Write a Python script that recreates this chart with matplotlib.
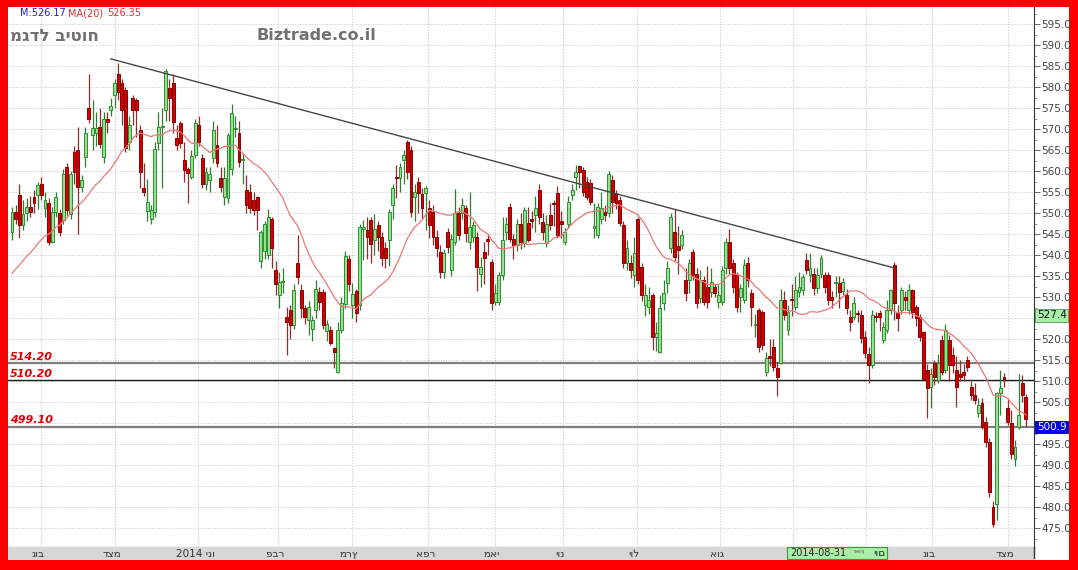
# Migdal Bitu'ah daily candles with MA(20), trend line and support levels
import numpy as np
import pandas as pd
import matplotlib
matplotlib.use("Agg")
import matplotlib.pyplot as plt
from matplotlib.patches import Rectangle
from matplotlib.ticker import MultipleLocator, FuncFormatter

opens = [
    545.6, 550.3, 554.3, 547.1, 549.9, 551.5, 553.9, 554.3, 556.8, 551.1,
    552.3, 543.2, 550.3, 549.9, 548.3, 561.0, 549.7, 564.6, 565.0, 556.3,
    563.4, 574.9, 568.6, 569.0, 570.6, 563.4, 572.5, 574.5, 578.1, 583.0,
    581.0, 579.3, 566.8, 577.3, 577.0, 569.8, 555.9, 550.5, 548.6, 550.3,
    566.6, 570.5, 574.5, 579.7, 580.9, 567.8, 571.4, 562.6, 560.5, 558.6,
    563.8, 571.0, 563.0, 556.8, 557.9, 563.0, 566.2, 558.3, 553.9, 553.5,
    560.6, 570.0, 569.0, 562.6, 555.5, 555.1, 553.0, 553.9, 538.5, 541.0,
    540.0, 548.7, 536.4, 530.5, 533.5, 525.3, 526.9, 523.3, 538.0, 531.6,
    527.3, 524.5, 522.5, 526.9, 531.3, 531.3, 521.9, 522.1, 517.8, 512.2,
    522.1, 528.3, 539.0, 528.1, 531.5, 528.1, 546.3, 545.9, 548.3, 543.6,
    547.1, 544.4, 541.6, 543.6, 551.9, 558.6, 558.3, 562.6, 567.0, 565.0,
    553.9, 557.5, 554.5, 554.8, 551.1, 550.3, 544.4, 540.8, 536.0, 545.5,
    536.4, 543.2, 549.9, 549.9, 551.3, 543.2, 544.4, 544.4, 535.6, 540.8,
    543.9, 538.4, 528.9, 528.9, 535.2, 545.5, 551.5, 543.9, 542.4,
    547.4, 542.8, 547.7, 548.7, 549.5, 555.5, 547.9, 542.8, 549.5, 552.5,
    554.7, 548.0, 543.2, 547.5, 554.3, 558.5, 561.2, 560.2, 557.5, 557.1,
    546.5, 544.8, 548.7, 550.3, 549.9, 557.9, 554.7, 553.1, 547.1, 538.1,
    538.1, 535.2, 548.7, 537.2, 528.1, 527.7, 530.5, 520.6, 517.0, 528.5,
    533.3, 541.6, 545.6, 542.1, 542.4, 534.0, 534.0, 540.8, 535.6, 529.7,
    534.0, 532.5, 531.3, 532.5, 528.9, 528.9, 536.8, 543.2, 538.0, 535.2,
    530.1, 529.3, 538.0, 530.9, 523.3, 526.9, 526.5, 512.2, 515.9,
    518.0, 513.0, 514.4, 529.3, 522.1, 529.3, 527.7, 531.3, 531.6, 538.8,
    535.2, 535.6, 532.1, 535.6, 535.2, 535.2, 530.0, 533.3, 533.3, 531.5,
    530.5, 525.3, 525.3, 526.1, 525.7, 520.6, 516.4, 513.8, 525.5, 526.1,
    519.8, 522.1, 526.9, 537.6, 526.1, 526.9, 530.0, 526.9, 531.6, 527.7,
    525.3, 521.7, 512.6, 508.6, 514.2, 510.2, 519.8, 512.6, 519.8, 516.2,
    512.6, 511.8, 512.2, 515.0, 508.7, 506.7, 502.3, 504.7, 500.3, 495.6,
    480.0, 480.8, 507.1, 511.0, 503.5, 499.9, 491.5, 499.1, 509.5, 506.3,
]
highs = [
    551.5, 552.0, 557.0, 553.0, 553.5, 554.0, 555.5, 557.5, 558.5, 555.0,
    553.5, 551.5, 555.0, 551.0, 560.5, 562.0, 560.0, 566.0, 570.5, 559.0,
    570.5, 583.0, 577.0, 574.0, 575.0, 574.0, 574.0, 577.3, 582.0, 585.6,
    582.0, 580.0, 573.0, 578.0, 577.5, 571.0, 562.0, 558.0, 552.0, 567.0,
    574.0, 575.0, 584.2, 582.0, 583.0, 571.0, 572.0, 567.0, 561.0, 565.0,
    572.5, 573.0, 564.0, 561.0, 561.0, 572.0, 571.0, 561.0, 561.0, 569.0,
    576.0, 573.0, 572.0, 564.0, 559.0, 557.0, 555.0, 554.0, 546.0, 548.0,
    551.0, 549.0, 538.5, 536.0, 537.0, 527.7, 528.0, 533.0, 544.7, 533.0,
    528.0, 529.0, 525.5, 534.0, 532.5, 532.0, 524.5, 523.0, 518.0, 524.0,
    530.0, 541.0, 540.0, 533.3, 532.0, 547.5, 548.3, 549.0, 549.0, 549.7,
    548.0, 545.5, 543.0, 551.0, 557.0, 561.5, 562.0, 565.0, 567.4, 566.0,
    557.0, 558.5, 556.0, 556.5, 553.0, 552.0, 546.0, 542.5, 541.5, 546.5,
    545.0, 555.7, 551.5, 553.5, 552.0, 555.0, 548.0, 545.5, 539.5, 543.0,
    545.0, 539.0, 533.0, 536.0, 549.0, 549.0, 552.5, 545.0, 548.5,
    550.0, 551.5, 551.5, 550.5, 554.0, 557.0, 550.0, 549.5, 552.5, 553.0,
    556.5, 550.5, 546.5, 554.0, 557.0, 561.5, 561.5, 561.0, 558.5, 558.0,
    552.5, 552.5, 555.0, 552.0, 560.0, 559.0, 555.5, 554.0, 548.0, 543.5,
    540.0, 544.2, 549.0, 538.0, 533.0, 532.5, 531.0, 524.0, 530.5, 534.0,
    538.5, 550.0, 551.0, 547.0, 546.0, 537.0, 539.0, 541.5, 537.0, 536.5,
    535.0, 537.5, 537.0, 533.0, 533.0, 537.5, 544.0, 546.3, 539.0, 536.0,
    533.0, 539.0, 539.5, 532.0, 526.0, 527.5, 527.0, 517.0, 520.0,
    520.0, 514.5, 532.0, 531.5, 528.0, 533.0, 535.0, 536.0, 535.5, 540.5,
    540.5, 537.0, 537.0, 540.0, 536.0, 536.0, 531.5, 535.0, 535.0, 534.5,
    532.0, 527.0, 530.0, 527.0, 527.0, 522.0, 518.0, 527.0, 526.5, 527.0,
    524.0, 529.3, 532.0, 538.3, 528.0, 532.5, 531.5, 533.0, 532.0, 528.0,
    526.0, 522.0, 514.0, 513.0, 515.0, 516.5, 521.0, 523.5, 521.0, 518.0,
    516.0, 515.0, 514.0, 516.0, 510.0, 509.5, 506.0, 506.0, 501.5, 496.5,
    481.5, 507.5, 512.6, 512.0, 506.0, 503.0, 496.0, 511.6, 511.5, 507.0,
]
lows = [
    543.5, 547.5, 544.0, 546.0, 548.0, 549.0, 550.0, 551.0, 553.0, 549.0,
    542.5, 542.8, 549.0, 544.5, 547.5, 549.5, 548.5, 557.0, 545.0, 555.0,
    561.0, 571.5, 565.0, 566.0, 565.5, 562.0, 569.0, 573.0, 575.0, 577.0,
    571.0, 564.5, 565.0, 571.0, 568.0, 556.0, 554.0, 548.0, 547.5, 549.0,
    565.0, 556.0, 572.0, 572.0, 569.0, 565.0, 565.5, 557.5, 552.5, 558.0,
    563.0, 566.0, 556.0, 555.5, 555.0, 562.0, 561.0, 555.0, 552.0, 552.5,
    559.0, 568.0, 561.0, 557.0, 550.0, 550.0, 549.5, 546.0, 537.0, 539.0,
    539.0, 537.0, 530.5, 527.5, 531.0, 516.2, 520.0, 522.5, 533.2, 525.0,
    523.5, 521.0, 519.5, 525.0, 527.0, 522.5, 519.5, 518.5, 513.0, 512.0,
    521.5, 527.5, 531.5, 525.0, 524.0, 527.0, 538.8, 539.0, 538.0, 540.0,
    541.0, 537.5, 537.0, 537.5, 548.5, 553.5, 555.0, 557.0, 558.0, 549.0,
    548.0, 550.0, 548.5, 546.0, 544.0, 542.5, 539.5, 534.5, 534.5, 540.5,
    535.0, 542.5, 543.5, 548.5, 543.0, 541.5, 543.0, 531.5, 532.5, 533.0,
    540.0, 527.0, 528.0, 528.0, 534.0, 543.5, 543.0, 539.0, 541.0,
    541.5, 542.0, 543.0, 546.5, 545.5, 547.5, 543.5, 542.0, 546.0, 547.0,
    544.0, 544.0, 542.5, 546.5, 553.0, 555.5, 556.0, 554.0, 553.0, 552.0,
    544.0, 544.0, 547.5, 548.0, 549.0, 550.0, 551.0, 547.0, 537.0, 536.5,
    534.5, 532.5, 533.0, 529.0, 525.5, 526.0, 517.4, 517.2, 516.8, 527.0,
    531.0, 540.5, 538.5, 535.5, 541.5, 529.0, 531.0, 534.0, 527.5, 528.5,
    528.0, 527.5, 530.0, 530.0, 527.5, 528.0, 535.5, 535.5, 531.0, 526.5,
    526.5, 528.5, 532.5, 523.0, 520.5, 517.0, 517.5, 511.2, 513.5,
    512.5, 506.5, 514.0, 524.5, 521.0, 525.5, 527.0, 530.0, 530.5, 535.5,
    533.5, 530.5, 531.0, 534.5, 531.0, 528.0, 527.5, 530.0, 527.5, 530.5,
    526.0, 522.0, 524.5, 524.0, 519.0, 515.5, 509.5, 513.2, 524.0, 522.0,
    519.0, 521.5, 526.0, 524.5, 522.0, 526.0, 527.0, 526.0, 525.0, 523.0,
    519.5, 510.0, 501.1, 503.5, 509.0, 509.5, 511.5, 512.0, 510.0, 512.0,
    503.9, 510.0, 510.0, 512.5, 505.5, 504.5, 501.5, 498.6, 494.3, 482.5,
    475.3, 477.0, 502.0, 508.5, 499.5, 491.5, 489.8, 498.5, 505.0, 499.3,
]
closes = [
    550.3, 548.7, 547.1, 549.7, 551.5, 550.3, 552.3, 556.7, 554.3, 553.1,
    543.2, 550.3, 553.9, 545.6, 559.4, 550.7, 559.2, 559.8, 556.3, 557.9,
    569.0, 572.5, 570.2, 570.2, 566.4, 572.5, 571.7, 575.5, 580.9, 578.9,
    574.5, 565.4, 571.0, 574.5, 574.5, 559.8, 554.9, 552.7, 550.7, 565.2,
    570.6, 570.8, 583.7, 577.3, 571.7, 566.2, 566.6, 560.2, 559.5, 563.6,
    571.4, 567.0, 556.8, 559.8, 559.4, 569.8, 562.0, 556.3, 558.3, 568.6,
    573.7, 570.3, 562.2, 562.9, 551.9, 551.1, 550.7, 550.7, 545.5, 547.5,
    549.1, 541.6, 533.2, 533.6, 533.7, 524.1, 523.3, 531.6, 534.8, 527.3,
    525.3, 527.7, 524.5, 532.0, 528.9, 523.3, 523.5, 519.1, 517.0, 522.1,
    528.5, 539.8, 533.2, 530.7, 526.1, 546.7, 546.5, 544.4, 542.6, 546.3,
    544.4, 539.2, 539.2, 550.3, 555.9, 558.3, 561.0, 563.8, 559.8, 550.3,
    554.9, 554.7, 551.1, 555.9, 547.1, 544.4, 541.6, 536.0, 540.4, 542.0,
    543.9, 549.9, 544.8, 551.9, 545.2, 546.7, 547.1, 537.2, 537.2, 539.2,
    543.3, 528.5, 530.9, 535.2, 543.6, 547.5, 543.9, 542.4, 547.5,
    543.2, 550.7, 543.6, 548.2, 551.1, 549.1, 545.5, 547.4, 547.1, 552.2,
    544.8, 547.5, 545.6, 552.7, 555.5, 559.8, 559.8, 554.9, 553.9, 552.7,
    546.8, 551.5, 551.1, 549.5, 559.4, 552.7, 552.3, 547.7, 538.1, 541.6,
    536.4, 540.4, 534.0, 530.5, 530.5, 529.3, 520.6, 521.5, 527.3, 530.9,
    536.8, 549.1, 539.6, 541.3, 544.8, 530.9, 538.0, 535.2, 528.5, 534.0,
    528.9, 528.9, 533.6, 531.0, 530.5, 536.4, 543.2, 536.8, 532.5, 527.7,
    532.1, 537.6, 534.0, 527.7, 523.7, 518.2, 518.6, 515.4, 515.4,
    513.4, 511.0, 529.3, 525.7, 526.5, 529.2, 531.6, 532.5, 534.8, 536.4,
    536.8, 532.1, 535.2, 539.4, 532.5, 529.3, 529.3, 533.4, 531.1, 533.5,
    527.3, 524.1, 528.5, 525.9, 520.2, 516.6, 513.8, 525.7, 525.3, 525.3,
    522.9, 526.9, 531.6, 528.5, 524.9, 531.6, 529.3, 531.6, 526.5, 524.9,
    520.6, 510.6, 508.3, 511.8, 511.0, 514.2, 512.2, 522.1, 513.8, 513.8,
    508.7, 511.0, 511.5, 513.4, 506.7, 505.5, 504.3, 499.1, 495.6, 483.6,
    475.9, 507.1, 508.3, 510.5, 500.3, 492.7, 494.4, 501.9, 506.7, 500.9,
]
# closes before the visible window, only used to warm up the MA(20)
ma_history = [527.0, 529.0, 528.0, 531.0, 533.0, 532.0, 534.0, 535.0, 536.5, 534.0,
              536.0, 535.0, 537.0, 538.0, 536.0, 539.0, 540.0, 538.0, 543.0]

# month boundaries, in bar units (Sep/Oct labels sit under the cursor box)
month_pos = [7.9, 28.1, 50.8, 72.7, 92.9, 113.7, 132.0, 150.5, 170.8, 193.4, 213.4, 233.3, 251.4, 272.1]
month_labels = ["נוב", "דצמ", "2014 ינו", "פבר", "מרץ", "אפר", "מאי", "יונ", "יול", "אוג",
                "", "", "נוב", "דצמ"]

levels = [514.2, 510.2, 499.1]
level_colors = ["#7f7f7f", "#1a1a1a", "#7f7f7f"]
level_widths = [1.6, 1.0, 1.6]

trend_x = [27.0, 240.7]
trend_y = [586.7, 537.0]

last_ma_box = 527.4
last_close_box = 500.9
# price ticks hidden behind the two value boxes
covered_ticks = [500, 525]

W, H = 1078, 570
fig = plt.figure(figsize=(W / 100, H / 100), dpi=100, facecolor="#ff0000")


def fbox(x0, y0, x1, y1, **kw):
    fig.patches.append(Rectangle((x0 / W, 1 - y1 / H), (x1 - x0) / W, (y1 - y0) / H,
                                 transform=fig.transFigure, **kw))


fbox(8, 7, 1069, 560, facecolor="white", edgecolor="none", zorder=-10)

ax = fig.add_axes([8 / W, 1 - 547 / H, (1034 - 8) / W, (547 - 7) / H])
ax.set_facecolor("white")
n = len(closes)
x = np.arange(n)
o = np.array(opens)
c = np.array(closes)
hi = np.array(highs)
lo = np.array(lows)
xmin, xmax = -1.1, 279.2
ax.set_xlim(xmin, xmax)
ax.set_ylim(470.5, 599.05)

# grid
for v in np.arange(475, 600, 5):
    ax.axhline(v, color="#c9c9c9", lw=0.7, ls=(0, (1, 1.5)), zorder=0)
for m in month_pos:
    ax.axvline(m, color="#c9c9c9", lw=0.8, ls=(0, (1, 1.5)), zorder=0)

# support / resistance levels
for lvl, col, lw in zip(levels, level_colors, level_widths):
    ax.axhline(lvl, color=col, lw=lw, zorder=1)
    ax.text(0.0015, lvl + 0.4, f"{lvl:.2f}", transform=ax.get_yaxis_transform(),
            ha="left", va="bottom", color="#e00000", fontsize=8,
            fontstyle="italic", fontweight="bold", zorder=6)

# candles
up = c >= o
body_lo = np.minimum(o, c)
body_h = np.maximum(np.abs(c - o), 0.3)
ax.vlines(x[up], lo[up], hi[up], color="#2f7d2f", lw=0.9, zorder=3)
ax.vlines(x[~up], lo[~up], hi[~up], color="#8a2e2e", lw=0.9, zorder=3)
ax.bar(x[up], body_h[up], bottom=body_lo[up], width=0.8, color="#92e292",
       edgecolor="#2f8f2f", linewidth=0.7, zorder=4)
ax.bar(x[~up], body_h[~up], bottom=body_lo[~up], width=0.8, color="#d20000",
       edgecolor="#8c0000", linewidth=0.7, zorder=4)

# MA(20)
ma = pd.Series(ma_history + closes).rolling(20).mean().iloc[len(ma_history):].to_numpy()
ax.plot(x, ma, color="#f07575", lw=0.9, zorder=5)

# trend line
ax.plot(trend_x, trend_y, color="#454545", lw=1.0, zorder=5)

# axes styling
ax.yaxis.tick_right()
ax.set_yticks(np.arange(475, 600, 5))
ax.yaxis.set_major_formatter(FuncFormatter(
    lambda v, p: "" if round(v) in covered_ticks else f"{v:.1f}"))
ax.yaxis.set_minor_locator(MultipleLocator(2.5))
ax.tick_params(axis="y", which="major", direction="out", length=4, width=0.7,
               colors="#666666", labelcolor="#444444", labelsize=7.5, pad=1)
ax.tick_params(axis="y", which="minor", direction="out", length=2, width=0.6, colors="#888888")
ax.set_xticks([])
for side in ("left", "top"):
    ax.spines[side].set_visible(False)
ax.spines["right"].set_color("#333333")
ax.spines["bottom"].set_color("#333333")

# date band
bax = fig.add_axes([8 / W, 1 - 560 / H, (1034 - 8) / W, 13 / H])
bax.set_facecolor("#d7d7d7")
bax.set_xlim(xmin, xmax)
bax.set_ylim(0, 1)
bax.set_xticks([])
bax.set_yticks([])
for s in bax.spines.values():
    s.set_visible(False)
for m, label in zip(month_pos, month_labels):
    if label:
        bax.text(m - 0.8, 0.45, label, ha="center", va="center", fontsize=7.5, color="#333333")
fig.lines.append(plt.Line2D([1034 / W, 1034 / W], [1 - 547 / H, 1 - 558 / H],
                            transform=fig.transFigure, color="#333333", lw=1))

# cursor date box
fbox(787, 547, 887, 559, facecolor="#a9efa9", edgecolor="#3a9a3a", lw=0.8, zorder=5)
fig.text(790 / W, 1 - 553.5 / H, "2014-08-31", ha="left", va="center", fontsize=7,
         color="#222222", zorder=6)
fig.text(859 / W, 1 - 551 / H, "ראשון", ha="center", va="center", fontsize=3.5,
         color="#555555", zorder=6)
fig.text(885 / W, 1 - 553.5 / H, "יום", ha="right", va="center", fontsize=7.5,
         color="#222222", zorder=6)

# right axis value boxes
fbox(1035, 309, 1068, 322, facecolor="#a9efa9", edgecolor="#4a9a4a", lw=0.6, zorder=5)
fig.text(1037 / W, 1 - 315.5 / H, f"{last_ma_box:.1f}", ha="left", va="center",
         fontsize=7.5, color="#111111", zorder=6)
fbox(1035, 421, 1068, 433, facecolor="#0000ee", edgecolor="#0000aa", lw=0.6, zorder=5)
fig.text(1037 / W, 1 - 427 / H, f"{last_close_box:.1f}", ha="left", va="center",
         fontsize=7.5, color="white", zorder=6)

# header texts
fig.text(20 / W, 1 - 13 / H, "M:526.17", ha="left", va="center", fontsize=7, color="#2020cc")
fig.text(68 / W, 1 - 13 / H, "MA(20)", ha="left", va="center", fontsize=7, color="#e03030")
fig.text(107 / W, 1 - 13 / H, "526.35", ha="left", va="center", fontsize=7, color="#e03030")
fig.text(10 / W, 1 - 36 / H, "מגדל ביטוח", ha="left", va="center", fontsize=12,
         fontweight="bold", color="#707070")
fig.text(256 / W, 1 - 36 / H, "Biztrade.co.il", ha="left", va="center", fontsize=11.5,
         fontweight="bold", color="#707070")

fig.savefig("out.png", dpi=100, facecolor=fig.get_facecolor())
